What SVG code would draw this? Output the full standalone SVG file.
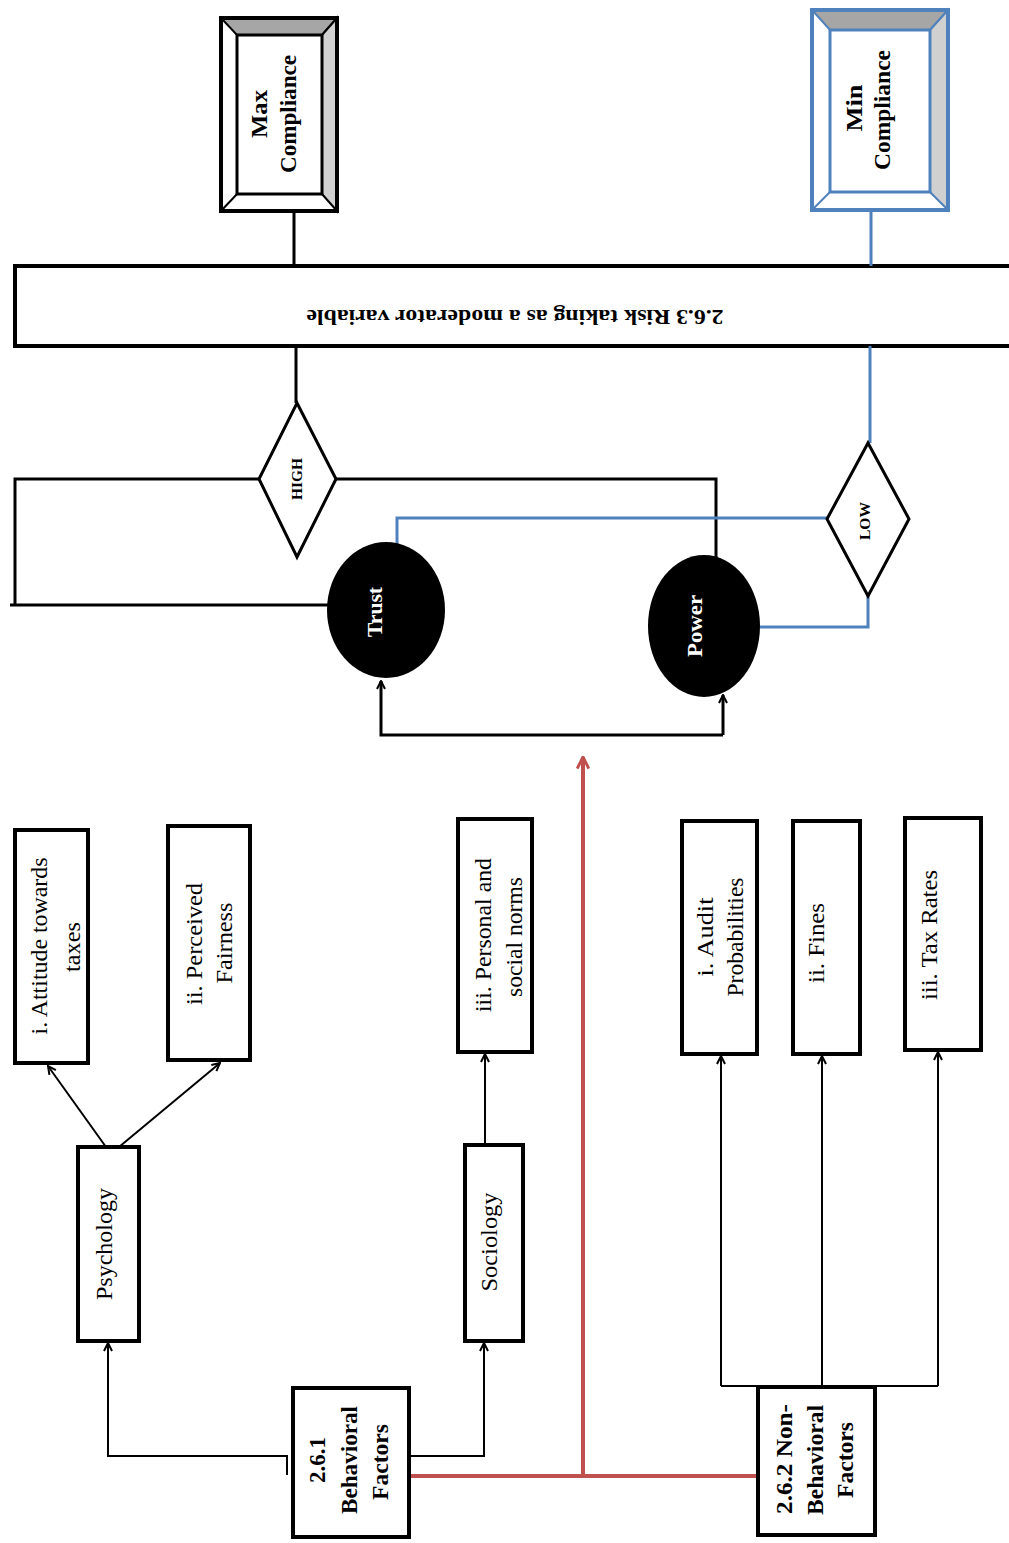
<svg xmlns="http://www.w3.org/2000/svg" width="1009" height="1543" viewBox="0 0 1009 1543">
<defs>
<marker id="ah" viewBox="0 0 10 10" refX="9" refY="5" markerWidth="10" markerHeight="10" markerUnits="userSpaceOnUse" orient="auto">
<path d="M1,1 L9,5 L1,9" fill="none" stroke="#000" stroke-width="2"/>
</marker>
<marker id="ahr" viewBox="0 0 12 12" refX="11" refY="6" markerWidth="14" markerHeight="14" markerUnits="userSpaceOnUse" orient="auto">
<path d="M1,1 L11,6 L1,11" fill="none" stroke="#c0504d" stroke-width="2.5"/>
</marker>
</defs>
<style>
text{font-family:"Liberation Serif","Times New Roman",serif;fill:#000}
.b{font-weight:bold}
.n{font-size:24px}
.box{fill:#fff;stroke:#000;stroke-width:4}
.thick{fill:none;stroke:#000;stroke-width:3}
.thin{fill:none;stroke:#000;stroke-width:2}
.blue{fill:none;stroke:#4f81bd;stroke-width:3}
.red{fill:none;stroke:#c0504d;stroke-width:4}
.w{fill:#fff}
</style>

<g id="max-compliance">
<rect x="221" y="18" width="116" height="193" fill="#fff"/>
<polygon points="221,18 337,18 322,35 237,35" fill="#a6a6a6" stroke="#000" stroke-width="2"/>
<polygon points="337,18 337,211 322,194 322,35" fill="#d0d0d0" stroke="#000" stroke-width="2"/>
<line x1="221" y1="211" x2="237" y2="194" stroke="#000" stroke-width="2"/>
<rect x="221" y="18" width="116" height="193" fill="none" stroke="#000" stroke-width="4"/>
<rect x="237" y="35" width="85" height="159" fill="#fff" stroke="#000" stroke-width="3"/>
<text class="b" font-size="24" transform="translate(267,114) rotate(-90)" text-anchor="middle" textLength="48" lengthAdjust="spacingAndGlyphs">Max</text>
<text class="b" font-size="24" transform="translate(296,114) rotate(-90)" text-anchor="middle" textLength="118" lengthAdjust="spacingAndGlyphs">Compliance</text>
</g>

<g id="min-compliance">
<rect x="812" y="10" width="136" height="200" fill="#fff"/>
<polygon points="812,10 948,10 930,30 830,30" fill="#a6a6a6" stroke="#4f81bd" stroke-width="2"/>
<polygon points="948,10 948,210 930,192 930,30" fill="#d0d0d0" stroke="#4f81bd" stroke-width="2"/>
<line x1="812" y1="210" x2="830" y2="192" stroke="#4f81bd" stroke-width="2"/>
<rect x="812" y="10" width="136" height="200" fill="none" stroke="#4f81bd" stroke-width="4"/>
<rect x="830" y="30" width="100" height="162" fill="#fff" stroke="#4f81bd" stroke-width="3"/>
<text class="b" font-size="24" transform="translate(862,108) rotate(-90)" text-anchor="middle" textLength="47" lengthAdjust="spacingAndGlyphs">Min</text>
<text class="b" font-size="24" transform="translate(890,110) rotate(-90)" text-anchor="middle" textLength="120" lengthAdjust="spacingAndGlyphs">Compliance</text>
</g>

<g id="risk-taking">
<rect x="15" y="266" width="1010" height="80" class="box"/>
<text class="b" font-size="22" transform="translate(515,310) rotate(180)" text-anchor="middle" textLength="417" lengthAdjust="spacingAndGlyphs">2.6.3 Risk taking as a moderator variable</text>
</g>

<g id="connectors">
<path class="thick" d="M294,211 V266"/>
<path class="blue" d="M871,210 V266"/>
<path class="thick" d="M296,346 V403"/>
<path class="blue" d="M870,346 V443"/>
<path class="thick" d="M259,479 H15 V605"/>
<path class="thick" d="M10,605 H328"/>
<path class="thick" d="M336,479 H716 V558"/>
<path class="blue" d="M397,546 V518 H827"/>
<path class="blue" d="M868,595 V627 H760"/>
<path class="thick" d="M723,735 H381 V681" marker-end="url(#ah)"/>
<path class="thick" d="M723,735 V695" marker-end="url(#ah)"/>
<path class="red" d="M408,1476 H758"/>
<path class="red" d="M583,1476 V757" marker-end="url(#ahr)"/>
<path class="thin" d="M287,1475 V1456 H108 V1343" marker-end="url(#ah)"/>
<path class="thin" d="M409,1456 H484 V1343" marker-end="url(#ah)"/>
<path class="thin" d="M485,1145 V1054" marker-end="url(#ah)"/>
<path class="thin" d="M106,1147 L48,1066" marker-end="url(#ah)"/>
<path class="thin" d="M119,1147 L220,1063" marker-end="url(#ah)"/>
<path class="thin" d="M721,1386 H938"/>
<path class="thin" d="M721,1386 V1056" marker-end="url(#ah)"/>
<path class="thin" d="M822,1388 V1056" marker-end="url(#ah)"/>
<path class="thin" d="M938,1386 V1052" stroke="#333" marker-end="url(#ah)"/>
</g>

<g id="high">
<polygon points="297,403 336,479 297,557 259,479" fill="#fff" stroke="#000" stroke-width="3"/>
<text class="b" font-size="14" transform="translate(302,479) rotate(-90)" text-anchor="middle" textLength="42" lengthAdjust="spacingAndGlyphs">HIGH</text>
</g>

<g id="low">
<polygon points="868,443 909,519 868,596 827,519" fill="#fff" stroke="#000" stroke-width="3"/>
<text class="b" font-size="14" transform="translate(870,521) rotate(-90)" text-anchor="middle" textLength="38" lengthAdjust="spacingAndGlyphs">LOW</text>
</g>

<g id="trust">
<ellipse cx="386" cy="610" rx="59" ry="68" fill="#000"/>
<text class="b w" font-size="20" transform="translate(382,612) rotate(-90)" text-anchor="middle" textLength="50" lengthAdjust="spacingAndGlyphs">Trust</text>
</g>

<g id="power">
<ellipse cx="704" cy="626" rx="56" ry="71" fill="#000"/>
<text class="b w" font-size="21" transform="translate(702,626) rotate(-90)" text-anchor="middle" textLength="62" lengthAdjust="spacingAndGlyphs">Power</text>
</g>

<g id="attitude">
<rect x="15" y="830" width="73" height="233" class="box"/>
<text class="n" transform="translate(47,946) rotate(-90)" text-anchor="middle" textLength="177" lengthAdjust="spacingAndGlyphs">i. Attitude towards</text>
<text class="n" transform="translate(80,947) rotate(-90)" text-anchor="middle" textLength="50" lengthAdjust="spacingAndGlyphs">taxes</text>
</g>

<g id="fairness">
<rect x="168" y="826" width="82" height="234" class="box"/>
<text class="n" transform="translate(202,944) rotate(-90)" text-anchor="middle" textLength="122" lengthAdjust="spacingAndGlyphs">ii. Perceived</text>
<text class="n" transform="translate(232,943) rotate(-90)" text-anchor="middle" textLength="81" lengthAdjust="spacingAndGlyphs">Fairness</text>
</g>

<g id="norms">
<rect x="458" y="819" width="74" height="233" class="box"/>
<text class="n" transform="translate(491,935) rotate(-90)" text-anchor="middle" textLength="154" lengthAdjust="spacingAndGlyphs">iii. Personal and</text>
<text class="n" transform="translate(522,937) rotate(-90)" text-anchor="middle" textLength="120" lengthAdjust="spacingAndGlyphs">social norms</text>
</g>

<g id="audit">
<rect x="682" y="821" width="75" height="233" class="box"/>
<text class="n" transform="translate(713,937) rotate(-90)" text-anchor="middle" textLength="79" lengthAdjust="spacingAndGlyphs">i. Audit</text>
<text class="n" transform="translate(743,937) rotate(-90)" text-anchor="middle" textLength="119" lengthAdjust="spacingAndGlyphs">Probabilities</text>
</g>

<g id="fines">
<rect x="793" y="821" width="67" height="233" class="box"/>
<text class="n" transform="translate(824,943) rotate(-90)" text-anchor="middle" textLength="80" lengthAdjust="spacingAndGlyphs">ii. Fines</text>
</g>

<g id="tax-rates">
<rect x="905" y="818" width="76" height="232" class="box"/>
<text class="n" transform="translate(937,935) rotate(-90)" text-anchor="middle" textLength="130" lengthAdjust="spacingAndGlyphs">iii. Tax Rates</text>
</g>

<g id="psychology">
<rect x="78" y="1147" width="61" height="194" class="box"/>
<text class="n" transform="translate(112,1244) rotate(-90)" text-anchor="middle" textLength="112" lengthAdjust="spacingAndGlyphs">Psychology</text>
</g>

<g id="sociology">
<rect x="465" y="1145" width="58" height="196" class="box"/>
<text class="n" transform="translate(497,1242) rotate(-90)" text-anchor="middle" textLength="99" lengthAdjust="spacingAndGlyphs">Sociology</text>
</g>

<g id="behavioral">
<rect x="293" y="1388" width="116" height="149" class="box"/>
<text class="b n" transform="translate(325,1460) rotate(-90)" text-anchor="middle" textLength="46" lengthAdjust="spacingAndGlyphs">2.6.1</text>
<text class="b n" transform="translate(357,1460) rotate(-90)" text-anchor="middle" textLength="108" lengthAdjust="spacingAndGlyphs">Behavioral</text>
<text class="b n" transform="translate(388,1462) rotate(-90)" text-anchor="middle" textLength="76" lengthAdjust="spacingAndGlyphs">Factors</text>
</g>

<g id="non-behavioral">
<rect x="758" y="1387" width="117" height="148" class="box"/>
<text class="b n" transform="translate(792,1459) rotate(-90)" text-anchor="middle" textLength="110" lengthAdjust="spacingAndGlyphs">2.6.2 Non-</text>
<text class="b n" transform="translate(823,1460) rotate(-90)" text-anchor="middle" textLength="110" lengthAdjust="spacingAndGlyphs">Behavioral</text>
<text class="b n" transform="translate(853,1460) rotate(-90)" text-anchor="middle" textLength="76" lengthAdjust="spacingAndGlyphs">Factors</text>
</g>
</svg>
